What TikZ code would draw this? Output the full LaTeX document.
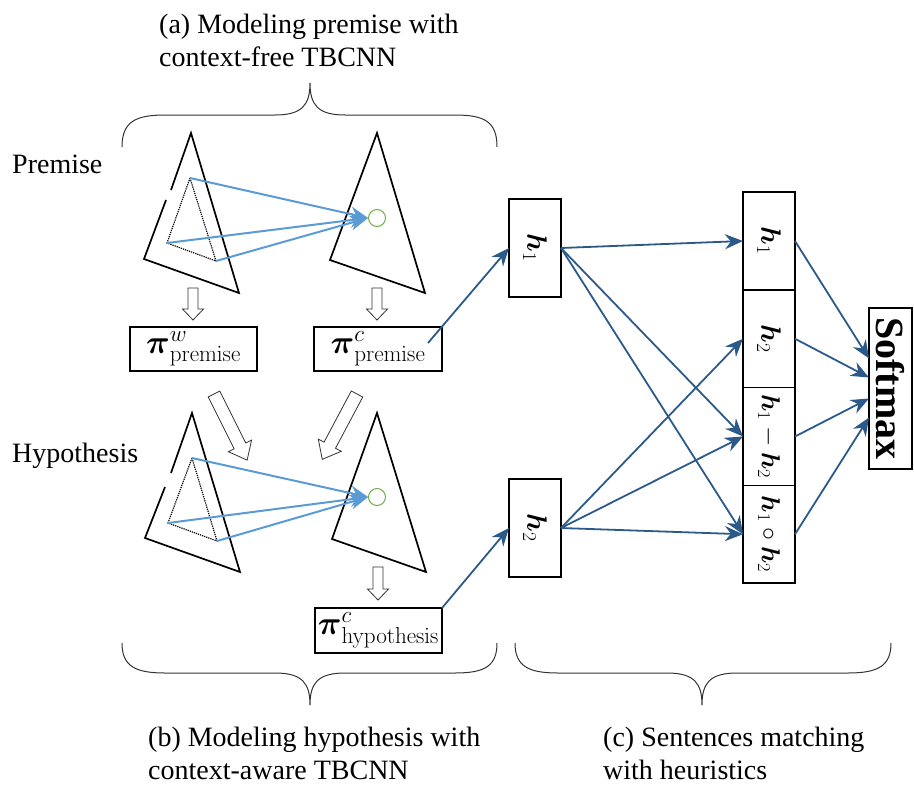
\RequirePackage{fix-cm}
\documentclass[tikz,border=0pt]{standalone}
\usepackage{amsmath,amssymb}
\usepackage[no-math]{fontspec}
\setmainfont{Liberation Serif}
\usepackage{xcolor}
\usepackage{tikz}
\usetikzlibrary{arrows.meta,positioning,calc}
\definecolor{tblue}{HTML}{5B9BD5}
\definecolor{tdark}{HTML}{2B5A8A}
\definecolor{tgreen}{HTML}{70AD47}
\definecolor{tline}{HTML}{333333}
\tikzset{
  vecbox/.style={rectangle, draw=black, line width=1.3pt, inner sep=0pt, outer sep=0pt,
                 align=center, font=\fontsize{28}{33}\selectfont},
  poolbox/.style={vecbox, font=\fontsize{33}{38}\selectfont},
  lbl/.style={inner sep=0pt, align=left, font=\fontsize{28}{33.5}\selectfont},
  tree/.style={draw=black, line width=1.7pt, line join=miter},
  subtree/.style={draw=black, densely dotted, line width=1.2pt},
  unit/.style={circle, draw=tgreen, line width=1pt, minimum size=17pt, inner sep=0pt},
  lt/.style={-{Stealth[length=18pt,width=15pt]}, draw=tblue, line width=2pt},
  dk/.style={-{Stealth[length=18pt,width=15pt]}, draw=tdark, line width=1.8pt},
  brace/.style={draw=tline, line width=1pt},
  pics/hollow/.style n args={4}{code={
    \draw[draw=tline, fill=white, line width=.8pt] (-#2,0) -- (-#2,#1-#4) -- (-#3,#1-#4)
      -- (0,#1) -- (#3,#1-#4) -- (#2,#1-#4) -- (#2,0) -- cycle;}},
}
\begin{document}
\begin{tikzpicture}[x=1pt,y=-1pt]
\useasboundingbox (0,0) rectangle (914,785);
% --- labels (base = last line)
\node[lbl,anchor=base west] (ta) at (159,66.5) {(a) Modeling premise with\\context-free TBCNN};
\node[lbl,anchor=base west] (lp) at (12,173) {Premise};
\node[lbl,anchor=base west] (lh) at (12,462) {Hypothesis};
\node[lbl,anchor=base west] (tb) at (148,779.5) {(b) Modeling hypothesis with\\context-aware TBCNN};
\node[lbl,anchor=base west] (tc) at (603,779.5) {(c) Sentences matching\\with heuristics};

% --- premise trees
\draw[tree] (166,200) -- (144,259) -- (239,293) -- (191,133) -- (171,190);
\coordinate (pa) at (190,178); \coordinate (pl) at (167,243); \coordinate (pr) at (216,261);
\draw[subtree] (pa) -- (pl) -- (pr) -- cycle;
\draw[tree] (377,133) -- (330,260) -- (425,293) -- cycle;
\node[unit] (o1) at (377,218) {};
\draw[lt] (pa) -- (o1.west); \draw[lt] (pl) -- (o1.west); \draw[lt] (pr) -- (o1.west);

% --- hypothesis trees
\draw[tree] (165,487) -- (145,538) -- (240,572) -- (192,413) -- (171,473);
\coordinate (ha) at (192,458); \coordinate (hl) at (168,523); \coordinate (hr) at (217,541);
\draw[subtree] (ha) -- (hl) -- (hr) -- cycle;
\draw[tree] (377,413) -- (332,539) -- (426,572) -- cycle;
\node[unit] (o2) at (377,497) {};
\draw[lt] (ha) -- (o2.west); \draw[lt] (hl) -- (o2.west); \draw[lt] (hr) -- (o2.west);

% --- pooled vectors
\pic at (193,288) {hollow={32}{5}{10.5}{11}};
\pic at (377,288) {hollow={32}{5}{10.5}{11}};
\pic at (378,567) {hollow={33}{5}{10.5}{11}};
\pic[rotate=26.6] at (214,394) {hollow={74}{6.5}{13}{16}};
\pic[rotate=-28] at (357,394) {hollow={74}{6.5}{13}{16}};
\node[poolbox,minimum width=127pt,minimum height=44pt] (pw1) at (193.5,349) {$\boldsymbol{\pi}^{w}_{\mathrm{premise}}$};
\node[poolbox,minimum width=128pt,minimum height=44pt] (pc1) at (378,349) {$\boldsymbol{\pi}^{c}_{\mathrm{premise}}$};
\node[poolbox,minimum width=127pt,minimum height=45pt] (pc2) at (378.5,630.5) {$\boldsymbol{\pi}^{c}_{\mathrm{hypothesis}}$};

% --- matching
\node[vecbox,minimum width=52pt,minimum height=98pt] (h1) at (535,248) {\rotatebox{-90}{$\boldsymbol{h}_1$}};
\node[vecbox,minimum width=52pt,minimum height=98pt] (h2) at (535,528) {\rotatebox{-90}{$\boldsymbol{h}_2$}};
\node[vecbox,minimum width=52pt,minimum height=97.75pt] (v1) at (769,241) {\rotatebox{-90}{$\boldsymbol{h}_1$}};
\node[vecbox,minimum width=52pt,minimum height=97.75pt,below=0pt of v1] (v2) {\rotatebox{-90}{$\boldsymbol{h}_2$}};
\node[vecbox,minimum width=52pt,minimum height=97.75pt,below=0pt of v2,font=\fontsize{26}{30}\selectfont] (v3) {\rotatebox{-90}{$\boldsymbol{h}_1-\boldsymbol{h}_2$}};
\node[vecbox,minimum width=52pt,minimum height=97.75pt,below=0pt of v3,font=\fontsize{26}{30}\selectfont] (v4) {\rotatebox{-90}{$\boldsymbol{h}_1\circ\boldsymbol{h}_2$}};
\node[vecbox,minimum width=43pt,minimum height=161pt,font=\fontsize{40}{40}\selectfont\bfseries] (sm) at (890.5,388.5) {\rotatebox{-90}{Softmax}};

\coordinate (pcout) at ($(pc1.north east)+(-14,16)$);
\draw[dk] (pcout) -- (h1.west); \draw[dk] (pc2.north east) -- (h2.west);
\draw[dk] (h1.east) -- (v1.west); \draw[dk] (h1.east) -- (v3.west); \draw[dk] (h1.east) -- (v4.west);
\draw[dk] (h2.east) -- (v2.west); \draw[dk] (h2.east) -- (v3.west); \draw[dk] (h2.east) -- (v4.west);
\draw[dk] (v1.east) -- ($(sm.west)+(0,-30)$); \draw[dk] (v2.east) -- ($(sm.west)+(0,-11)$);
\draw[dk] (v3.east) -- ($(sm.west)+(0,10)$);  \draw[dk] (v4.east) -- ($(sm.west)+(0,29)$);

% --- braces
\draw[brace] (122,147) .. controls (122,122) and (135,115) .. (165,115) -- (275,115)
   .. controls (302,115) and (310,105) .. (310,83) .. controls (310,105) and (318,115) .. (345,115)
   -- (455,115) .. controls (485,115) and (497,122) .. (497,147);
\draw[brace] (122,643) .. controls (122,666) and (135,673) .. (165,673) -- (275,673)
   .. controls (302,673) and (310,683) .. (310,705) .. controls (310,683) and (318,673) .. (345,673)
   -- (455,673) .. controls (485,673) and (497,666) .. (497,643);
\draw[brace] (515,643) .. controls (515,666) and (528,673) .. (558,673) -- (667,673)
   .. controls (694,673) and (702,683) .. (702,705) .. controls (702,683) and (710,673) .. (737,673)
   -- (848,673) .. controls (878,673) and (891,666) .. (891,643);
\end{tikzpicture}
\end{document}
